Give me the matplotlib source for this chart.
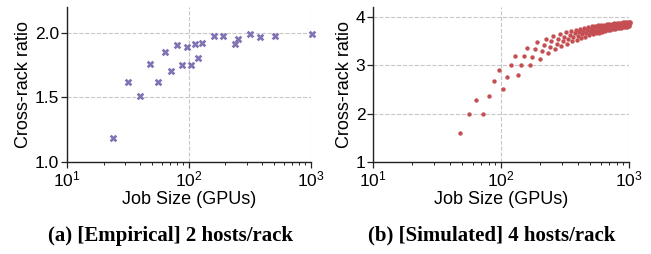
import matplotlib
matplotlib.use("Agg")
import matplotlib.pyplot as plt
from matplotlib.ticker import LogLocator, NullFormatter

plt.rcParams['font.family'] = ['Liberation Sans', 'DejaVu Sans']
plt.rcParams['mathtext.default'] = 'regular'

# ---- data: (a) empirical, 2 hosts/rack ----
emp_gpus = [24, 32, 40, 48, 56, 64, 72, 80, 88, 96, 104, 112, 120, 128,
            160, 192, 240, 256, 320, 384, 512, 1024]
emp_ratio = [1.18, 1.62, 1.51, 1.76, 1.62, 1.85, 1.70, 1.90, 1.75, 1.89, 1.75,
             1.91, 1.80, 1.92, 1.97, 1.97, 1.91, 1.95, 1.985, 1.967, 1.977, 1.985]

# ---- data: (b) simulated, 4 hosts/rack ----
sim_gpus = [48, 56, 64, 72, 80, 88, 96, 104, 112, 120, 128, 136, 144, 152, 160,
            168, 176, 184, 192, 200, 208, 216, 224, 232, 240, 248, 256, 264, 272,
            280, 288, 296, 304, 312, 320, 328, 336, 344, 352, 360, 368, 376, 384,
            392, 400, 408, 416, 424, 432, 440, 448, 456, 464, 472, 480, 488, 496,
            504, 512, 520, 528, 536, 544, 552, 560, 568, 576, 584, 592, 600, 608,
            616, 624, 632, 640, 648, 656, 664, 672, 680, 688, 696, 704, 712, 720,
            728, 736, 744, 752, 760, 768, 776, 784, 792, 800, 808, 816, 824, 832,
            840, 848, 856, 864, 872, 880, 888, 896, 904, 912, 920, 928, 936, 944,
            952, 960, 968, 976, 984, 992, 1000, 1008, 1016, 1024]
sim_ratio = [1.600, 2.000, 2.286,
             2.000, 2.370, 2.667, 2.909,
             2.500, 2.769, 3.000, 3.200,
             2.800, 3.012, 3.200, 3.368,
             3.000, 3.175, 3.333, 3.478,
             3.143, 3.291, 3.429, 3.556,
             3.250, 3.379, 3.500, 3.613,
             3.333, 3.448, 3.556, 3.657,
             3.400, 3.503, 3.600, 3.692,
             3.455, 3.548, 3.636, 3.721,
             3.500, 3.585, 3.667, 3.745,
             3.538, 3.617, 3.692, 3.765,
             3.571, 3.644, 3.714, 3.782,
             3.600, 3.668, 3.733, 3.797,
             3.625, 3.689, 3.750, 3.810,
             3.647, 3.707, 3.765, 3.821,
             3.667, 3.723, 3.778, 3.831,
             3.684, 3.738, 3.789, 3.840,
             3.700, 3.751, 3.800, 3.848,
             3.714, 3.763, 3.810, 3.855,
             3.727, 3.773, 3.818, 3.862,
             3.739, 3.783, 3.826, 3.868,
             3.750, 3.792, 3.833, 3.874,
             3.760, 3.800, 3.840, 3.879,
             3.769, 3.808, 3.846, 3.883,
             3.778, 3.815, 3.852, 3.888,
             3.786, 3.822, 3.857, 3.892,
             3.793, 3.828, 3.862, 3.896,
             3.800, 3.834, 3.867, 3.899,
             3.806, 3.839, 3.871, 3.902,
             3.813, 3.844, 3.875, 3.906]

emp_yticks = [1.0, 1.5, 2.0]
emp_yticklabels = ['1.0', '1.5', '2.0']
sim_yticks = [1, 2, 3, 4]
sim_yticklabels = ['1', '2', '3', '4']

xlabel = 'Job Size (GPUs)'
ylabel = 'Cross-rack ratio'
cap_a = '(a) [Empirical] 2 hosts/rack'
cap_b = '(b) [Simulated] 4 hosts/rack'

fig = plt.figure(figsize=(6.51, 2.54), dpi=100)
ax1 = fig.add_axes([0.1029, 0.3634, 0.3741, 0.6102])
ax2 = fig.add_axes([0.5730, 0.3634, 0.3932, 0.6102])

ax1.scatter(emp_gpus, emp_ratio, marker='X', s=30, color='#8172B3',
            linewidths=0, zorder=3, clip_on=False)
ax2.scatter(sim_gpus, sim_ratio, marker='o', s=10, color='#C44E52',
            linewidths=0, zorder=3, clip_on=False)

for ax, yt, ytl, ylim in [(ax1, emp_yticks, emp_yticklabels, (1.0, 2.2)),
                          (ax2, sim_yticks, sim_yticklabels, (1.0, 4.22))]:
    ax.set_xscale('log')
    ax.set_xlim(10, 1000)
    ax.set_ylim(*ylim)
    ax.set_yticks(yt)
    ax.set_yticklabels(ytl)
    ax.xaxis.set_major_locator(LogLocator(base=10, numticks=10))
    ax.xaxis.set_minor_locator(LogLocator(base=10, subs=range(2, 10), numticks=10))
    ax.xaxis.set_minor_formatter(NullFormatter())
    ax.grid(True, which='major', linestyle='--', color='#c8c8c8', linewidth=0.8)
    ax.set_axisbelow(True)
    for s in ['top', 'right']:
        ax.spines[s].set_visible(False)
    for s in ['left', 'bottom']:
        ax.spines[s].set_color('#222222')
        ax.spines[s].set_linewidth(1.0)
    ax.tick_params(axis='both', which='major', labelsize=12.5, length=4,
                   width=0.9, color='#222222', pad=1.5)
    ax.tick_params(axis='x', which='minor', length=2.5, width=0.7, color='#222222')
    ax.set_xlabel(xlabel, fontsize=13, labelpad=1)
    ax.set_ylabel(ylabel, fontsize=13, labelpad=2)

fig.text(0.262, 0.072, cap_a, ha='center', va='center', fontsize=15,
         fontweight='bold', family='Liberation Serif')
fig.text(0.756, 0.072, cap_b, ha='center', va='center', fontsize=15,
         fontweight='bold', family='Liberation Serif')

fig.savefig('out.png', dpi=100)
